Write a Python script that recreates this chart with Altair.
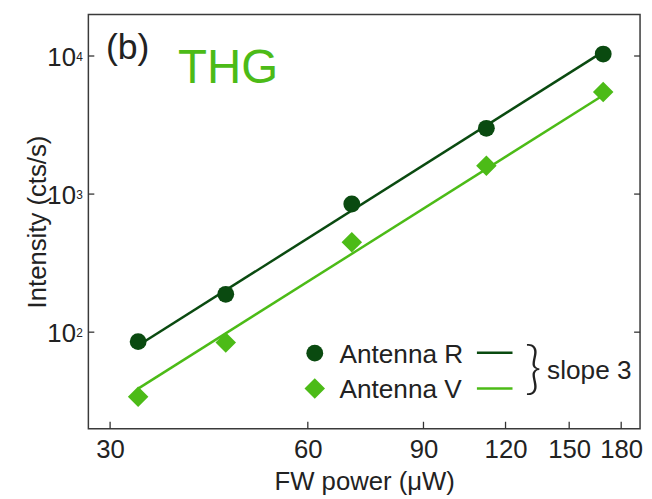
import altair as alt
import pandas as pd

# ---- data ----
power_uw = [33.1, 45.0, 70.0, 112.2, 169.0]
antenna_r = [85.4, 188, 848, 2995, 10330]
antenna_v = [34.0, 84.0, 447, 1603, 5478]

fit_power = [33.1, 169.0]
fit_r = [80, 10750]
fit_v = [39, 5200]

x_ticks = [30, 60, 90, 120, 150, 180]
y_ticks = [100, 1000, 10000]
y_exps = ["2", "3", "4"]

W, H = 558, 419
DARK = "#0a4a10"
LIGHT = "#4cbb17"
INK = "#222222"
FONT = "Liberation Sans"

xs = alt.Scale(type="log", domain=[27.8, 192.3], nice=False)
ys = alt.Scale(type="log", domain=[20, 20000], nice=False)

xaxis = alt.Axis(values=x_ticks, ticks=False, domain=False, grid=False, format="d",
                 labelFont=FONT, labelFontSize=26, labelColor=INK, labelPadding=8.3,
                 labelFlush=False, labelOverlap=False,
                 title="FW power (μW)", titleFont=FONT, titleFontSize=26,
                 titleFontWeight="normal", titleColor=INK, titleBaseline="alphabetic",
                 titleX=W / 2, titleY=61.5, titleAlign="center")
yaxis = alt.Axis(labels=False, ticks=False, domain=False, grid=False,
                 title="Intensity (cts/s)", titleFont=FONT, titleFontSize=26,
                 titleFontWeight="normal", titleColor=INK, titleBaseline="alphabetic",
                 titleX=-43, titleY=H / 2, titleAlign="center", titleAngle=270)

X = alt.X("x:Q", scale=xs, axis=xaxis)
Y = alt.Y("y:Q", scale=ys, axis=yaxis)

df_r = pd.DataFrame({"x": power_uw, "y": antenna_r})
df_v = pd.DataFrame({"x": power_uw, "y": antenna_v})
fit_r_df = pd.DataFrame({"x": fit_power, "y": fit_r})
fit_v_df = pd.DataFrame({"x": fit_power, "y": fit_v})
xt_df = pd.DataFrame({"x": x_ticks})
yt_df = pd.DataFrame({"y": y_ticks, "e": y_exps})
one = pd.DataFrame({"a": [0]})

line_r = alt.Chart(fit_r_df).mark_line(color=DARK, strokeWidth=2.5).encode(x=X, y=Y)
line_v = alt.Chart(fit_v_df).mark_line(color=LIGHT, strokeWidth=2.5).encode(x=X, y=Y)
pts_r = alt.Chart(df_r).mark_point(shape="circle", filled=True, size=290, color=DARK, opacity=1).encode(x=X, y=Y)
pts_v = alt.Chart(df_v).mark_point(shape="diamond", filled=True, size=430, color=LIGHT, opacity=1).encode(x=X, y=Y)

xt = alt.Chart(xt_df).mark_rule(color="#333", strokeWidth=1.3).encode(
    x=X, y=alt.value(H - 7), y2=alt.value(H))
ytl = alt.Chart(yt_df).mark_rule(color="#333", strokeWidth=1.3).encode(
    y=Y, x=alt.value(0), x2=alt.value(6))
ytr = alt.Chart(yt_df).mark_rule(color="#333", strokeWidth=1.3).encode(
    y=Y, x=alt.value(W - 6), x2=alt.value(W))

ylab = alt.Chart(yt_df).mark_text(text="10", align="right", baseline="alphabetic", dy=10.3,
                                  font=FONT, fontSize=26, color=INK).encode(
    y=Y, x=alt.value(-12.6))
yexp = alt.Chart(yt_df).mark_text(align="left", baseline="alphabetic", dy=4.6,
                                  font=FONT, fontSize=12, color=INK).encode(
    y=Y, x=alt.value(-12.2), text="e:N")

def label(txt, x, y, size=26.5, color=INK, align="left", font=FONT, weight="normal"):
    return alt.Chart(one).mark_text(text=txt, align=align, baseline="alphabetic",
                                    font=font, fontSize=size, color=color,
                                    fontWeight=weight).encode(
        x=alt.value(x), y=alt.value(y))

panel = label("(b)", 17.7, 45.5, size=36)
thg = label("THG", 90.7, 69.3, size=48, color=LIGHT)

leg_r_pt = alt.Chart(one).mark_point(shape="circle", filled=True, size=290, color=DARK, opacity=1).encode(
    x=alt.value(229), y=alt.value(342.6))
leg_v_pt = alt.Chart(one).mark_point(shape="diamond", filled=True, size=430, color=LIGHT, opacity=1).encode(
    x=alt.value(229), y=alt.value(378.3))
leg_r_txt = label("Antenna R", 254, 352.6)
leg_v_txt = label("Antenna V", 254, 388.3)
leg_r_ln = alt.Chart(one).mark_rule(color=DARK, strokeWidth=2.5).encode(
    x=alt.value(393), x2=alt.value(429), y=alt.value(342.3))
leg_v_ln = alt.Chart(one).mark_rule(color=LIGHT, strokeWidth=2.5).encode(
    x=alt.value(393), x2=alt.value(429), y=alt.value(378.3))
brace = label("}", 450, 377, size=58, align="center", font="Lato", weight=300)
slope = label("slope 3", 464, 368.3)

chart = alt.layer(
    line_r, line_v, pts_r, pts_v, xt, ytl, ytr, ylab, yexp,
    panel, thg, leg_r_pt, leg_v_pt, leg_r_txt, leg_v_txt, leg_r_ln, leg_v_ln, brace, slope
).properties(
    width=W, height=H,
    autosize=alt.AutoSizeParams(type="none"),
    padding={"left": 81.3, "top": 3.7, "right": 4, "bottom": 68},
    background="white",
).configure_view(stroke="#3a3a3a", strokeWidth=1.5)

chart.save("out.html", embed_options={"renderer": "svg", "actions": False})
